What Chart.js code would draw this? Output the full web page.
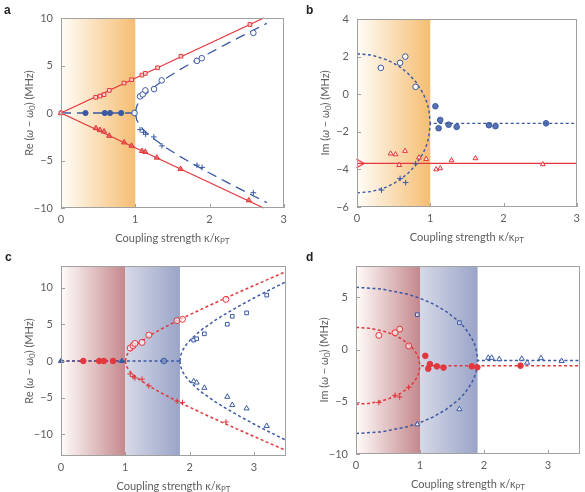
<!DOCTYPE html>
<html><head><meta charset="utf-8">
<script src="https://cdn.jsdelivr.net/npm/chart.js@4"></script>
<style>
html,body{margin:0;padding:0;background:#fff;}
#wrap{position:relative;width:585px;height:492px;overflow:hidden;}
canvas{position:absolute;}
.let{position:absolute;font:bold 12px "Liberation Sans",Arial,sans-serif;color:#222;}
</style></head>
<body><div id="wrap">
<canvas id="ca" width="292" height="245" style="left:0;top:0"></canvas>
<canvas id="cb" width="293" height="245" style="left:292px;top:0"></canvas>
<canvas id="cc" width="292" height="247" style="left:0;top:245px"></canvas>
<canvas id="cd" width="293" height="247" style="left:292px;top:245px"></canvas>
<div class="let" style="left:4px;top:3px">a</div>
<div class="let" style="left:306px;top:3px">b</div>
<div class="let" style="left:5px;top:250px">c</div>
<div class="let" style="left:306px;top:250px">d</div>
</div>
<script>
const RED = '#e2373c';
const BLUE = '#3a5aa4';
const FONT = 'Lato, "Open Sans", sans-serif';
const TXT = '#5e5e5e';
const W = '400';

// ---------- shared text ----------
const xTitleMain = 'Coupling strength κ/κ';
const xTitleSub = 'PT';
const yTitleRe = [['Re (', 'n'], ['ω', 'i'], [' − ', 'n'], ['ω', 'i'], ['0', 's'], [') (MHz)', 'n']];
const yTitleIm = [['Im (', 'n'], ['ω', 'i'], [' − ', 'n'], ['ω', 'i'], ['0', 's'], [') (MHz)', 'n']];

// ---------- panel a ----------
const aXTicks = [0, 1, 2, 3];
const aYTicks = [-10, -5, 0, 5, 10];
const aRedSquares = [[0,0],[0.467,1.65],[0.525,1.78],[0.579,1.93],[0.65,2.38],[0.848,3.15],[0.951,3.5],[1.09,3.99],[1.135,4.17],[1.30,4.76],[1.615,5.98],[2.544,9.31]];
const aRedTriangles = [[0,0],[0.47,-1.6],[0.525,-1.8],[0.58,-1.95],[0.65,-2.4],[0.85,-3.1],[0.95,-3.45],[1.09,-4.0],[1.135,-4.1],[1.29,-4.7],[1.61,-5.9],[2.53,-9.2]];
const aRedUpperLine = [[0,0],[2.73,10]];
const aRedLowerLine = [[0,0],[2.73,-10]];
const aBlueFilled = [[0.33,0],[0.59,0],[0.66,0],[0.81,0]];
const aBlueOpen = [[0.99,0],[1.064,1.75],[1.10,1.96],[1.136,2.38],[1.253,2.52],[1.356,3.43],[1.83,5.49],[1.895,5.77],[2.59,8.43]];
const aBlueCross = [[1.064,-1.75],[1.11,-2.03],[1.14,-2.24],[1.25,-2.52],[1.36,-3.46],[1.83,-5.49],[1.90,-5.73],[2.59,-8.39]];
const aBlueFlat = [[0,0],[1,0]];
const aBlueUpper = [[1,0],[1.02,0.73],[1.05,1.17],[1.1,1.67],[1.2,2.42],[1.4,3.58],[1.6,4.56],[1.8,5.46],[2.0,6.32],[2.2,7.15],[2.4,7.96],[2.6,8.76],[2.77,9.43]];
const aBlueLower = [[1,0],[1.02,-0.73],[1.05,-1.17],[1.1,-1.67],[1.2,-2.42],[1.4,-3.58],[1.6,-4.56],[1.8,-5.46],[2.0,-6.32],[2.2,-7.15],[2.4,-7.96],[2.6,-8.76],[2.77,-9.43]];

// ---------- panel b ----------
const bXTicks = [0, 1, 2, 3];
const bYTicks = [-6, -4, -2, 0, 2, 4];
const bBlueOpen = [[0.325,1.40],[0.588,1.67],[0.659,2.0],[0.80,0.39]];
const bBlueFilled = [[1.07,-0.64],[1.136,-1.37],[1.114,-1.81],[1.25,-1.62],[1.36,-1.74],[1.80,-1.65],[1.89,-1.70],[2.58,-1.55]];
const bBlueCross = [[0.334,-5.1],[0.588,-4.48],[0.664,-4.7],[0.80,-3.7]];
const bRedTriangles = [[0.459,-3.16],[0.526,-3.2],[0.655,-3.02],[0.575,-3.77],[0.846,-3.37],[0.944,-3.45],[1.08,-4.0],[1.136,-3.94],[1.29,-3.52],[1.617,-3.41],[2.535,-3.73]];
const bRedChevron = [[0.045,-3.68]];
const bRedLine = [[0,-3.68],[3,-3.68]];
const bBlueUpperArc = [[0,2.15],[0.2,2.08],[0.4,1.84],[0.5,1.65],[0.6,1.41],[0.7,1.09],[0.8,0.67],[0.9,0.06],[0.95,-0.40],[0.98,-0.81],[1.0,-1.55],[3.0,-1.55]];
const bBlueLowerArc = [[0,-5.25],[0.2,-5.18],[0.4,-4.94],[0.5,-4.75],[0.6,-4.51],[0.7,-4.19],[0.8,-3.77],[0.9,-3.16],[0.95,-2.70],[0.98,-2.29],[1.0,-1.55]];

// ---------- panel c ----------
const cXTicks = [0, 1, 2, 3];
const cYTicks = [-10, -5, 0, 5, 10];
const cRedFilled = [[0.347,0],[0.595,0],[0.667,0],[0.81,0]];
const cBlueFilledTri = [[0,0],[0.947,0]];
const cBlueDot = [[1.6,0]];
const cRedOpen = [[1.076,1.77],[1.12,2.09],[1.15,2.4],[1.26,2.54],[1.366,3.54],[1.805,5.53],[1.89,5.71],[2.566,8.44]];
const cRedCross = [[1.076,-1.77],[1.12,-2.13],[1.15,-2.31],[1.26,-2.49],[1.366,-3.4],[1.805,-5.49],[1.89,-5.67],[2.566,-8.34]];
const cBlueSquares = [[2.064,2.86],[2.11,3.04],[2.23,3.72],[2.587,5.03],[2.664,6.12],[2.887,6.58],[3.2,9.02]];
const cBlueTriangles = [[2.064,-2.77],[2.11,-2.95],[2.23,-3.67],[2.587,-4.9],[2.664,-6.03],[2.887,-6.49],[3.2,-8.89]];
const cRedFlat = [[0,0],[1,0]];
const cRedUpper = [[1,0],[1.02,0.73],[1.05,1.17],[1.1,1.67],[1.2,2.42],[1.4,3.58],[1.6,4.56],[1.8,5.46],[2.0,6.32],[2.25,7.36],[2.5,8.37],[2.75,9.35],[3.0,10.32],[3.25,11.29],[3.5,12.24]];
const cRedLower = [[1,0],[1.02,-0.73],[1.05,-1.17],[1.1,-1.67],[1.2,-2.42],[1.4,-3.58],[1.6,-4.56],[1.8,-5.46],[2.0,-6.32],[2.25,-7.36],[2.5,-8.37],[2.75,-9.35],[3.0,-10.32],[3.25,-11.29],[3.5,-12.24]];
const cBlueFlat = [[0,0],[1.85,0]];
const cBlueUpper = [[1.85,0],[1.86,0.70],[1.88,1.22],[1.9,1.58],[1.95,2.25],[2.0,2.77],[2.1,3.63],[2.2,4.35],[2.4,5.58],[2.6,6.67],[2.8,7.67],[3.0,8.62],[3.25,9.75],[3.5,10.84]];
const cBlueLower = [[1.85,0],[1.86,-0.70],[1.88,-1.22],[1.9,-1.58],[1.95,-2.25],[2.0,-2.77],[2.1,-3.63],[2.2,-4.35],[2.4,-5.58],[2.6,-6.67],[2.8,-7.67],[3.0,-8.62],[3.25,-9.75],[3.5,-10.84]];

// ---------- panel d ----------
const dXTicks = [0, 1, 2, 3];
const dYTicks = [-10, -5, 0, 5];
const dRedOpen = [[0.357,1.36],[0.61,1.61],[0.683,1.96],[0.823,0.35]];
const dRedCross = [[0.357,-5.08],[0.61,-4.38],[0.683,-4.54],[0.823,-3.62]];
const dRedFilled = [[1.083,-0.6],[1.129,-1.83],[1.155,-1.39],[1.264,-1.61],[1.367,-1.73],[1.808,-1.61],[1.896,-1.70],[2.57,-1.54]];
const dBlueSquares = [[0.958,3.34],[1.616,2.58]];
const dBlueTriangles = [[0.958,-7.16],[1.616,-5.71],[2.067,-0.79],[2.12,-0.79],[2.238,-0.92],[2.59,-0.88],[2.674,-1.26],[2.89,-0.82],[3.213,-1.1]];
const dRedUpperArc = [[0,2.12],[0.2,2.05],[0.4,1.81],[0.5,1.62],[0.6,1.38],[0.7,1.06],[0.8,0.64],[0.9,0.04],[0.95,-0.42],[0.98,-0.82],[1.0,-1.55],[3.5,-1.55]];
const dRedLowerArc = [[0,-5.23],[0.2,-5.16],[0.4,-4.92],[0.5,-4.73],[0.6,-4.49],[0.7,-4.17],[0.8,-3.75],[0.9,-3.15],[0.95,-2.69],[0.98,-2.28],[1.0,-1.55]];
const dBlueUpperArc = [[0,5.96],[0.4,5.80],[0.8,5.31],[1.0,4.91],[1.2,4.39],[1.4,3.69],[1.6,2.74],[1.7,2.09],[1.8,1.20],[1.85,0.56],[1.88,-0.03],[1.9,-1.04],[3.5,-1.04]];
const dBlueLowerArc = [[0,-8.04],[0.4,-7.88],[0.8,-7.39],[1.0,-6.99],[1.2,-6.47],[1.4,-5.77],[1.6,-4.82],[1.7,-4.17],[1.8,-3.28],[1.85,-2.64],[1.88,-2.05],[1.9,-1.04]];

// ---------- shaded regions (x ranges) ----------
const abBand = [0, 1];
const cRedBand = [0, 1], cBlueBand = [1, 1.85];
const dRedBand = [0, 1], dBlueBand = [1, 1.9];

// ---------- helpers ----------
function xy(arr){ return arr.map(([x,y]) => ({x, y})); }
function pts(arr, style, color, fill, r, rot){
  return {data: xy(arr), showLine:false, pointStyle: style, pointRadius: r || 2.6,
    pointBorderColor: color, pointBackgroundColor: fill, pointBorderWidth: 1, pointRotation: rot || 0,
    borderColor: color, backgroundColor: fill, clip: false};
}
function ln(arr, color, dash, w){
  return {data: xy(arr), showLine:true, pointRadius:0, borderColor: color, borderWidth: w || 1.3,
    borderDash: dash || [], tension: 0, fill:false, clip: false};
}
function chevron(color){
  const c = document.createElement('canvas'); c.width = 9; c.height = 11;
  const g = c.getContext('2d'); g.strokeStyle = color; g.lineWidth = 1.3;
  g.beginPath(); g.moveTo(0.5,1); g.lineTo(8,5.5); g.lineTo(0.5,10); g.stroke();
  return c;
}
function fmt(v){ return v < 0 ? '\u2212' + Math.abs(v) : String(v); }

function drawRich(ctx, parts, size){
  let w = 0;
  const f = s => (s === 'i' ? 'italic ' : '') + W + ' ' + (s === 's' ? size*0.72 : size) + 'px ' + FONT;
  const meas = parts.map(([t, s]) => { ctx.font = f(s); const m = ctx.measureText(t).width; w += m; return m; });
  let x = -w/2;
  parts.forEach(([t, s], i) => {
    ctx.font = f(s);
    ctx.fillText(t, x, s === 's' ? size*0.3 : 0);
    x += meas[i];
  });
}

const panelPlugin = {
  id: 'panel',
  beforeDatasetsDraw(chart){
    const o = chart.options.plugins.panel;
    const {ctx, chartArea: ca, scales: {x}} = chart;
    ctx.save();
    (o.bands || []).forEach(b => {
      const x0 = x.getPixelForValue(b.range[0]), x1 = x.getPixelForValue(b.range[1]);
      const g = ctx.createLinearGradient(x0, 0, x1, 0);
      g.addColorStop(0, b.c0); g.addColorStop(1, b.c1);
      ctx.fillStyle = g; ctx.fillRect(x0, ca.top, x1 - x0, ca.bottom - ca.top);
    });
    ctx.restore();
  },
  afterDraw(chart){
    const o = chart.options.plugins.panel;
    const {ctx, chartArea: ca, scales: {x, y}} = chart;
    ctx.save();
    ctx.strokeStyle = '#a0a0a0'; ctx.lineWidth = 1;
    ctx.strokeRect(Math.round(ca.left)+0.5, Math.round(ca.top)+0.5, Math.round(ca.right-ca.left)-1, Math.round(ca.bottom-ca.top)-1);
    ctx.beginPath();
    x.ticks.forEach(t => { const px = Math.round(x.getPixelForValue(t.value))+0.5;
      ctx.moveTo(px, ca.bottom); ctx.lineTo(px, ca.bottom - 4); });
    y.ticks.forEach(t => { const py = Math.round(y.getPixelForValue(t.value))+0.5;
      ctx.moveTo(ca.left, py); ctx.lineTo(ca.left + 4, py); });
    ctx.stroke();
    ctx.fillStyle = TXT; ctx.textBaseline = 'middle';
    // x title
    const cx = (ca.left + ca.right)/2, cy = ca.bottom + 30;
    ctx.font = W + ' 11px ' + FONT;
    const w1 = ctx.measureText(xTitleMain).width;
    ctx.font = W + ' 8px ' + FONT;
    const w2 = ctx.measureText(xTitleSub).width;
    let sx = cx - (w1 + w2)/2;
    ctx.font = W + ' 11px ' + FONT; ctx.textAlign = 'left';
    ctx.fillText(xTitleMain, sx, cy);
    ctx.font = W + ' 8px ' + FONT;
    ctx.fillText(xTitleSub, sx + w1, cy + 3);
    // y title
    ctx.translate(ca.left - 32, (ca.top + ca.bottom)/2);
    ctx.rotate(-Math.PI/2);
    drawRich(ctx, o.yTitle, 11);
    ctx.restore();
  }
};

function makeChart(id, cfg){
  new Chart(document.getElementById(id), {
    type: 'scatter',
    data: {datasets: cfg.datasets},
    plugins: [panelPlugin],
    options: {
      responsive: false, animation: false, devicePixelRatio: 1,
      layout: {padding: {top: cfg.top, right: cfg.right, left: 0, bottom: 0}},
      plugins: {legend: {display: false}, tooltip: {enabled: false},
        panel: {bands: cfg.bands, yTitle: cfg.yTitle}},
      scales: {
        x: {type: 'linear', min: cfg.xmin, max: cfg.xmax,
          grid: {display: false, drawTicks: false}, border: {display: false},
          afterBuildTicks: s => { s.ticks = cfg.xTicks.map(v => ({value: v})); },
          afterFit: s => { s.height = cfg.xh; },
          ticks: {padding: 5, color: TXT, font: {family: FONT, size: 11, weight: W}, callback: fmt, maxRotation: 0}},
        y: {type: 'linear', min: cfg.ymin, max: cfg.ymax,
          grid: {display: false, drawTicks: false}, border: {display: false},
          afterBuildTicks: s => { s.ticks = cfg.yTicks.map(v => ({value: v})); },
          afterFit: s => { s.width = cfg.left; },
          ticks: {padding: 8, color: TXT, font: {family: FONT, size: 11, weight: W}, callback: fmt}}
      }
    }
  });
}

const ORANGE_BAND = {range: abBand, c0: 'rgba(255,253,248,1)', c1: '#f5bd72'};

makeChart('ca', {
  left: 61, right: 8, top: 18, xh: 37, xmin: 0, xmax: 3, ymin: -10, ymax: 10,
  xTicks: aXTicks, yTicks: aYTicks, yTitle: yTitleRe, bands: [ORANGE_BAND],
  datasets: [
    pts(aRedSquares, 'rect', RED, 'rgba(255,215,215,0.9)', 2.6),
    pts(aRedTriangles, 'triangle', RED, 'rgba(230,90,95,0.75)', 3),
    pts(aBlueFilled, 'circle', BLUE, BLUE, 2.6),
    pts(aBlueOpen, 'circle', BLUE, 'rgba(255,255,255,0.9)', 2.8),
    pts(aBlueCross, 'cross', BLUE, BLUE, 2.8),
    ln(aRedUpperLine, RED, [], 1.3),
    ln(aRedLowerLine, RED, [], 1.3),
    ln(aBlueFlat, BLUE, [10,6], 1.3),
    ln(aBlueUpper, BLUE, [10,6], 1.3),
    ln(aBlueLower, BLUE, [10,6], 1.3)
  ]
});

makeChart('cb', {
  left: 65, right: 4, top: 19, xh: 38, xmin: 0, xmax: 3, ymin: -6, ymax: 4,
  xTicks: bXTicks, yTicks: bYTicks, yTitle: yTitleIm, bands: [ORANGE_BAND],
  datasets: [
    pts(bBlueOpen, 'circle', BLUE, 'rgba(255,255,255,0.9)', 2.8),
    pts(bBlueFilled, 'circle', BLUE, 'rgba(58,90,164,0.85)', 2.8),
    pts(bBlueCross, 'cross', BLUE, BLUE, 2.8),
    pts(bRedTriangles, 'triangle', RED, 'rgba(255,240,240,0.9)', 2.8),
    pts(bRedChevron, chevron(RED), RED, RED, 5),
    ln(bRedLine, RED, [], 1.4),
    ln(bBlueUpperArc, BLUE, [3,2.5], 1.4),
    ln(bBlueLowerArc, BLUE, [3,2.5], 1.4)
  ]
});

makeChart('cc', {
  left: 61, right: 6, top: 21, xh: 36, xmin: 0, xmax: 3.5, ymin: -13, ymax: 13,
  xTicks: cXTicks, yTicks: cYTicks, yTitle: yTitleRe,
  bands: [{range: cRedBand, c0: '#fffcfa', c1: '#c4888d'}, {range: cBlueBand, c0: '#d6d9e7', c1: '#9aa4c8'}],
  datasets: [
    pts(cBlueFilledTri, 'triangle', BLUE, BLUE, 3),
    pts(cBlueDot, 'circle', BLUE, 'rgba(120,140,190,0.8)', 2.8),
    pts(cRedFilled, 'circle', RED, RED, 2.8),
    pts(cRedOpen, 'circle', RED, 'rgba(255,255,255,0.6)', 3),
    pts(cRedCross, 'cross', RED, RED, 2.8),
    pts(cBlueSquares, 'rect', BLUE, 'rgba(255,255,255,0.9)', 2.6),
    pts(cBlueTriangles, 'triangle', BLUE, 'rgba(255,255,255,0.9)', 3),
    ln(cBlueFlat, BLUE, [3,2.5], 1.5),
    ln(cRedFlat, RED, [3,2.5], 1.5),
    ln(cRedUpper, RED, [3,2.5], 1.5),
    ln(cRedLower, RED, [3,2.5], 1.5),
    ln(cBlueUpper, BLUE, [3,2.5], 1.5),
    ln(cBlueLower, BLUE, [3,2.5], 1.5)
  ]
});

makeChart('cd', {
  left: 64, right: 3, top: 21, xh: 38, xmin: 0, xmax: 3.5, ymin: -10, ymax: 8,
  xTicks: dXTicks, yTicks: dYTicks, yTitle: yTitleIm,
  bands: [{range: dRedBand, c0: '#fffcfa', c1: '#c4888d'}, {range: dBlueBand, c0: '#d6d9e7', c1: '#9aa4c8'}],
  datasets: [
    pts(dRedOpen, 'circle', RED, 'rgba(255,255,255,0.5)', 3),
    pts(dRedCross, 'cross', RED, RED, 2.8),
    pts(dRedFilled, 'circle', RED, RED, 2.8),
    pts(dBlueSquares, 'rect', BLUE, 'rgba(255,255,255,0.6)', 2.6),
    pts(dBlueTriangles, 'triangle', BLUE, 'rgba(255,255,255,0.8)', 3),
    ln(dRedUpperArc, RED, [3,2.5], 1.5),
    ln(dRedLowerArc, RED, [3,2.5], 1.5),
    ln(dBlueUpperArc, BLUE, [3,2.5], 1.5),
    ln(dBlueLowerArc, BLUE, [3,2.5], 1.5)
  ]
});
</script>
</body></html>
